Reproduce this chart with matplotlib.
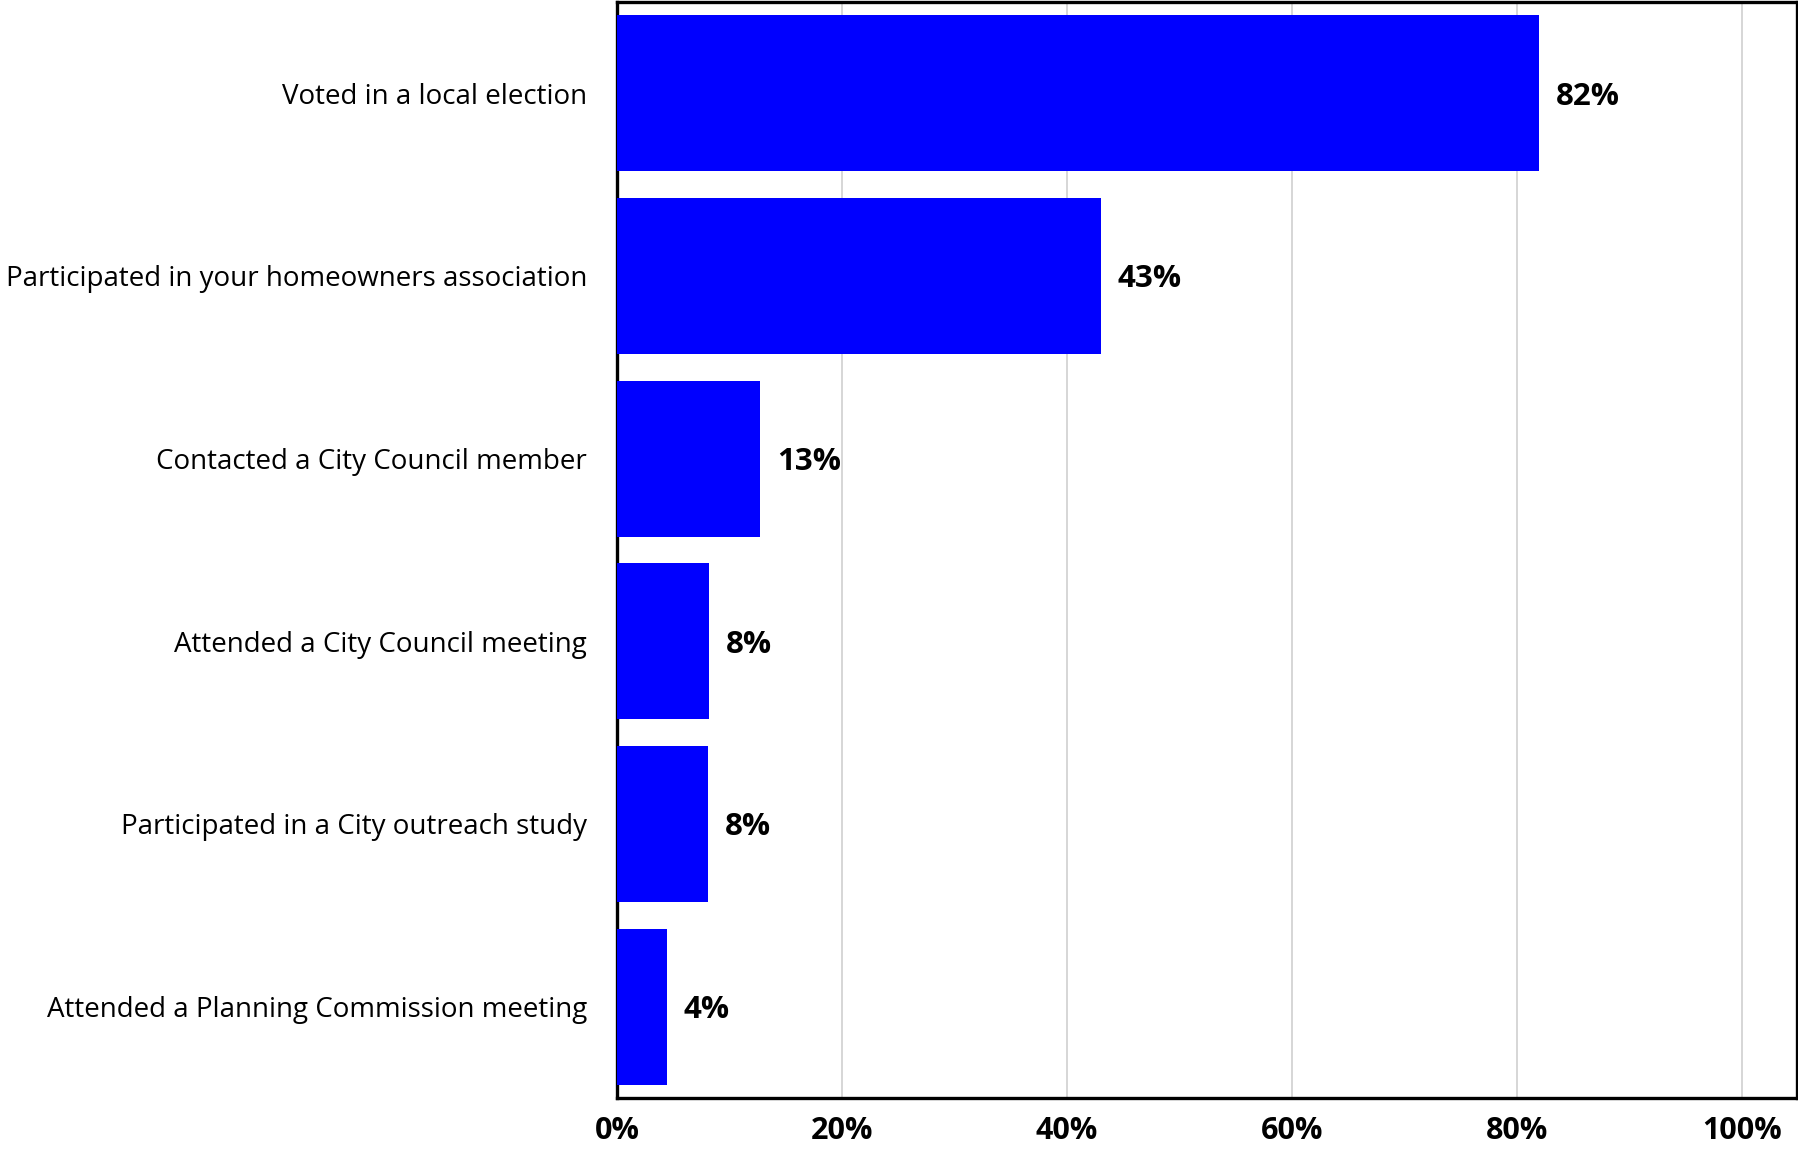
import matplotlib
matplotlib.use("Agg")
import matplotlib.pyplot as plt
from matplotlib.ticker import FuncFormatter

categories = [
    "Voted in a local election",
    "Participated in your homeowners association",
    "Contacted a City Council member",
    "Attended a City Council meeting",
    "Participated in a City outreach study",
    "Attended a Planning Commission meeting",
]
shares = [0.82, 0.43, 0.127, 0.082, 0.081, 0.044]
x_ticks = [0.0, 0.2, 0.4, 0.6, 0.8, 1.0]

plt.rcParams["font.family"] = ["Open Sans", "DejaVu Sans"]

fig = plt.figure(figsize=(17.99, 11.55), dpi=100)
ax = fig.add_axes([0.343, 0.0494, 0.6559, 0.9489])

ypos = list(range(len(categories)))
ax.barh(ypos, shares, height=0.855, color="#0000FF", zorder=3)

for y, v in zip(ypos, shares):
    ax.text(v + 0.015, y, f"{v * 100:.0f}%", va="center_baseline", ha="left",
            fontsize=22.5, fontweight="bold", color="black", zorder=4)

ax.set_ylim(len(categories) - 0.5, -0.5)
ax.set_xlim(0, 1.049)
ax.set_yticks(ypos)
ax.set_yticklabels(categories, fontsize=20)
ax.set_xticks(x_ticks)
ax.xaxis.set_major_formatter(FuncFormatter(lambda v, _: f"{v * 100:.0f}%"))
for lbl in ax.get_xticklabels():
    lbl.set_fontweight("bold")
    lbl.set_fontsize(22)

ax.tick_params(axis="y", length=0, pad=21.5)
ax.tick_params(axis="x", length=0, pad=13)
ax.grid(axis="x", color="#d0d0d0", linewidth=1.2, zorder=0)
ax.set_axisbelow(True)
for sp in ax.spines.values():
    sp.set_linewidth(2.4)
    sp.set_color("black")

fig.savefig("out.png", dpi=100, facecolor="white")
